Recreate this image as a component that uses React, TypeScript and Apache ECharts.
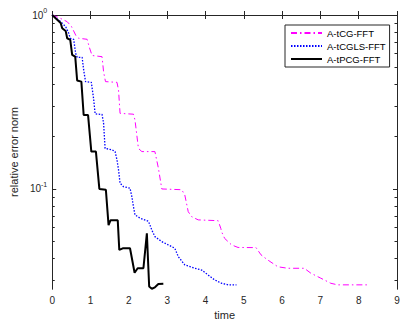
import React, { useEffect, useRef } from 'react';
import * as echarts from 'echarts';

// A-tCG-FFT (magenta, dash-dot)
const tcgTime = [0, 0.2, 0.39, 0.5, 0.62, 0.69, 0.91, 0.97, 1.04, 1.3, 1.34, 1.39, 1.69, 1.73, 1.77, 2.12, 2.16, 2.25, 2.34, 2.68, 2.77, 2.86, 3.38, 3.46, 3.55, 3.64, 3.81, 4.33, 4.4, 4.42, 4.5, 4.68, 4.85, 5.32, 5.45, 5.63, 5.89, 6.15, 6.58, 6.75, 7.01, 7.27, 7.45, 8.23];
const tcgErr = [1, 0.96, 0.915, 0.86, 0.76, 0.735, 0.725, 0.65, 0.585, 0.576, 0.472, 0.414, 0.41, 0.371, 0.272, 0.269, 0.249, 0.171, 0.164, 0.164, 0.132, 0.1, 0.099, 0.0924, 0.074, 0.0693, 0.0664, 0.0657, 0.0594, 0.0568, 0.052, 0.0477, 0.0461, 0.046, 0.0418, 0.039, 0.0357, 0.035, 0.035, 0.0328, 0.0307, 0.0287, 0.0281, 0.0281];

// A-tCGLS-FFT (blue, dotted)
const tcglsTime = [0, 0.22, 0.35, 0.43, 0.47, 0.56, 0.61, 0.65, 0.78, 0.82, 0.87, 1.02, 1.08, 1.12, 1.3, 1.34, 1.38, 1.56, 1.64, 1.69, 1.73, 1.77, 1.86, 2.03, 2.08, 2.12, 2.16, 2.29, 2.51, 2.55, 2.6, 2.68, 2.86, 3.12, 3.2, 3.29, 3.46, 3.72, 3.9, 4.07, 4.24, 4.42, 4.6, 4.81];
const tcglsErr = [1, 0.915, 0.857, 0.785, 0.735, 0.725, 0.603, 0.571, 0.571, 0.483, 0.414, 0.41, 0.33, 0.27, 0.268, 0.239, 0.171, 0.168, 0.164, 0.147, 0.129, 0.108, 0.103, 0.101, 0.09, 0.079, 0.071, 0.068, 0.0652, 0.0621, 0.058, 0.0532, 0.0498, 0.0466, 0.0456, 0.0408, 0.0366, 0.035, 0.0342, 0.032, 0.03, 0.0287, 0.0281, 0.0281];

// A-tPCG-FFT (black, solid)
const tpcgTime = [0, 0.13, 0.22, 0.26, 0.35, 0.39, 0.47, 0.52, 0.6, 0.65, 0.76, 0.82, 0.935, 1.02, 1.14, 1.23, 1.4, 1.47, 1.52, 1.71, 1.75, 1.84, 2.03, 2.15, 2.23, 2.38, 2.47, 2.53, 2.6, 2.68, 2.77, 2.9];
const tpcgErr = [1, 0.94, 0.9, 0.84, 0.81, 0.735, 0.72, 0.59, 0.576, 0.42, 0.414, 0.266, 0.266, 0.164, 0.164, 0.1, 0.099, 0.062, 0.066, 0.066, 0.0446, 0.0456, 0.0456, 0.033, 0.035, 0.035, 0.0556, 0.0275, 0.0267, 0.0272, 0.0284, 0.0285];

const seriesNames = ['A-tCG-FFT', 'A-tCGLS-FFT', 'A-tPCG-FFT'];
const xTicks = [0, 1, 2, 3, 4, 5, 6, 7, 8, 9];
const yMajorTicks = [0.1, 1];
const yMinorTicks = [0.03, 0.04, 0.05, 0.06, 0.07, 0.08, 0.09, 0.2, 0.3, 0.4, 0.5, 0.6, 0.7, 0.8, 0.9];
const yMinValue = 0.0266;
const yMaxValue = 1;

const FONT = '"Liberation Sans", Arial, Helvetica, sans-serif';
const AX = '#262626';

export default function App() {
  const ref = useRef<HTMLDivElement>(null);
  useEffect(() => {
    if (!ref.current) return;
    const chart = echarts.init(ref.current, undefined, { renderer: 'svg' });
    const lg = Math.log10;
    const yMin = lg(yMinValue);
    const yMax = lg(yMaxValue);
    const toData = (ts: number[], vs: number[]) => ts.map((t, i) => [t, lg(vs[i])]);

    const yAxisDef = (position: string, ticks: number[], len: number, main: boolean) => ({
      type: 'value',
      position,
      min: yMin,
      max: yMax,
      axisLine: { show: true, lineStyle: { color: AX, width: 1 } },
      axisTick: { show: true, inside: true, length: len, customValues: ticks.map(lg), lineStyle: { color: AX, width: 1 } },
      axisLabel: main
        ? {
            show: true,
            customValues: ticks.map(lg),
            margin: 5,
            formatter: (v: number) => `{b|10}{s|${Math.round(v)}}`,
            rich: {
              b: { fontSize: 10, fontFamily: FONT, color: AX, lineHeight: 16 },
              s: { fontSize: 7, fontFamily: FONT, color: AX, lineHeight: 8, verticalAlign: 'top' },
            },
          }
        : { show: false },
      splitLine: { show: false },
      ...(main && position === 'left'
        ? {
            name: 'relative error norm',
            nameLocation: 'middle',
            nameGap: 28,
            nameTextStyle: { fontSize: 11, fontFamily: FONT, color: AX },
          }
        : {}),
    });

    const xAxisDef = (position: string, main: boolean) => ({
      type: 'value',
      position,
      min: xTicks[0],
      max: xTicks[xTicks.length - 1],
      interval: 1,
      axisLine: { show: true, lineStyle: { color: AX, width: 1 } },
      axisTick: { show: true, inside: true, length: 4, lineStyle: { color: AX, width: 1 } },
      axisLabel: main ? { show: true, fontSize: 10, fontFamily: FONT, color: AX, margin: 6 } : { show: false },
      splitLine: { show: false },
      ...(main
        ? {
            name: 'time',
            nameLocation: 'middle',
            nameGap: 19,
            nameTextStyle: { fontSize: 11, fontFamily: FONT, color: AX },
          }
        : {}),
    });

    chart.setOption({
      animation: false,
      backgroundColor: '#fff',
      grid: { left: 50, right: 13, top: 15, bottom: 38, containLabel: false },
      xAxis: [xAxisDef('bottom', true), xAxisDef('top', false)],
      yAxis: [
        yAxisDef('left', yMajorTicks, 4, true),
        yAxisDef('left', yMinorTicks, 2.5, false),
        yAxisDef('right', yMajorTicks, 4, false),
        yAxisDef('right', yMinorTicks, 2.5, false),
      ],
      legend: {
        orient: 'vertical',
        left: 285,
        top: 25,
        padding: [3, 4, 3, 5],
        itemGap: 3,
        itemWidth: 31,
        itemHeight: 10,
        borderColor: AX,
        borderWidth: 1,
        backgroundColor: '#fff',
        itemStyle: { opacity: 0 },
        textStyle: { fontSize: 9.5, fontFamily: FONT, color: '#000' },
        data: seriesNames,
      },
      series: [
        {
          name: seriesNames[0],
          type: 'line',
          data: toData(tcgTime, tcgErr),
          symbol: 'none',
          lineStyle: { color: '#ff00ff', width: 1, type: [6, 3, 1.5, 3] },
          itemStyle: { color: '#ff00ff' },
        },
        {
          name: seriesNames[1],
          type: 'line',
          data: toData(tcglsTime, tcglsErr),
          symbol: 'none',
          lineStyle: { color: '#0000ff', width: 1.3, type: [1.5, 1.5] },
          itemStyle: { color: '#0000ff' },
        },
        {
          name: seriesNames[2],
          type: 'line',
          data: toData(tpcgTime, tpcgErr),
          symbol: 'none',
          lineStyle: { color: '#000', width: 2 },
          itemStyle: { color: '#000' },
        },
      ],
    });
    return () => chart.dispose();
  }, []);
  return <div ref={ref} style={{ position: 'fixed', left: 0, top: 0, width: 410, height: 327 }} />;
}
